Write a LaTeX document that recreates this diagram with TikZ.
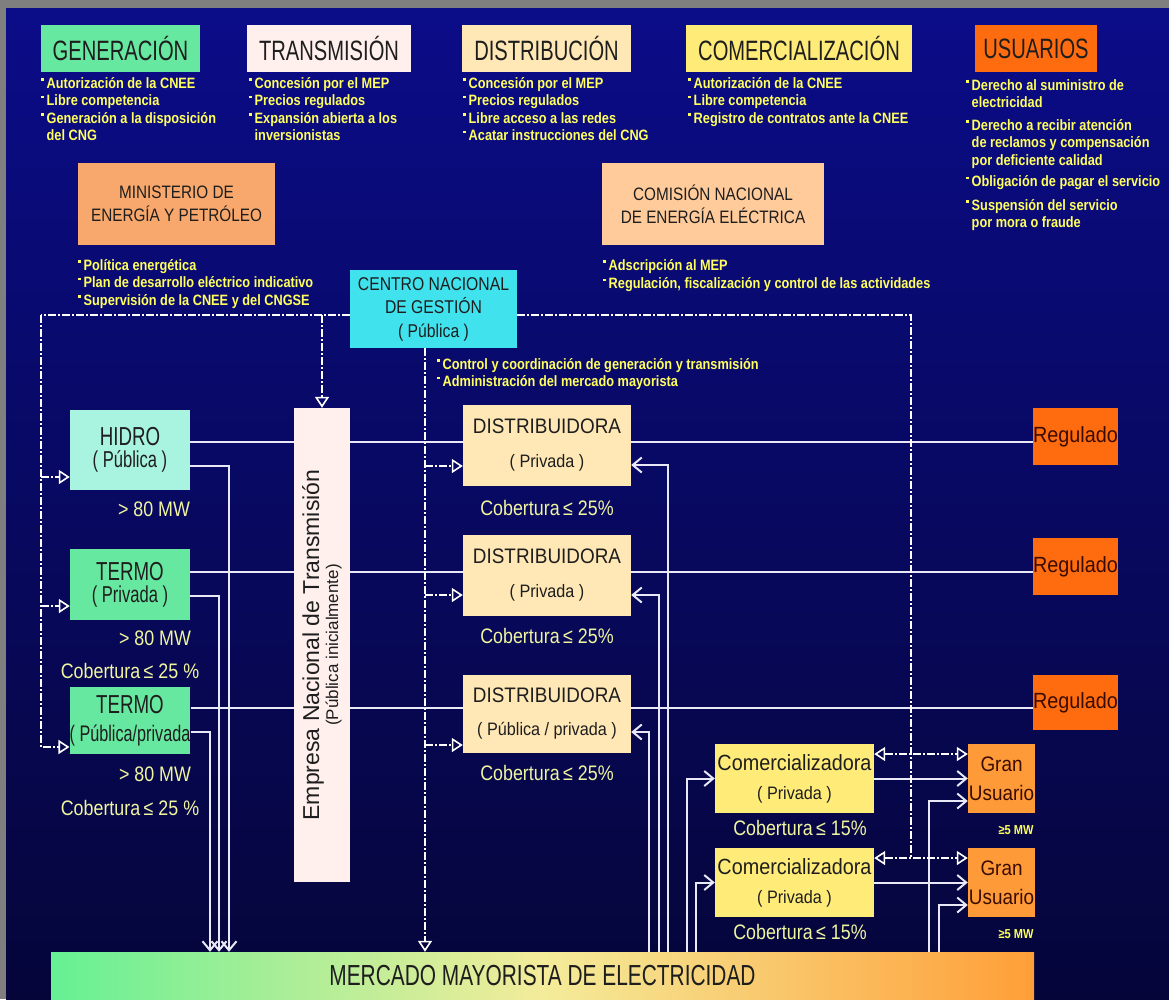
\documentclass[tikz,border=0pt]{standalone}
\usepackage{fontspec}
\setmainfont{Liberation Sans}
\newfontfamily\tallfont[FakeStretch=0.72]{Liberation Sans}
\newfontfamily\narrowfont[FakeStretch=0.85]{Liberation Sans}
\newfontfamily\boxfont[FakeStretch=0.9]{Liberation Sans}
\usetikzlibrary{arrows.meta}

\definecolor{frame}{HTML}{7F7F7F}
\definecolor{navytop}{HTML}{0B0C88}
\definecolor{navybot}{HTML}{05053A}
\definecolor{note}{HTML}{FFFF5E}
\definecolor{cover}{HTML}{F0F5A0}
\definecolor{ink}{HTML}{1E1E1E}
\definecolor{redink}{HTML}{3A0C00}
\definecolor{wirewhite}{HTML}{E8E8F6}
\definecolor{genfill}{HTML}{66E8A0}
\definecolor{hidrofill}{HTML}{A8F4E0}
\definecolor{transfill}{HTML}{FFF0EE}
\definecolor{distfill}{HTML}{FFE8B6}
\definecolor{comfill}{HTML}{FFEB78}
\definecolor{usufill}{HTML}{FF6C10}
\definecolor{gufill}{HTML}{FF9A38}
\definecolor{minfill}{HTML}{F8A86C}
\definecolor{cneefill}{HTML}{FFCB9B}
\definecolor{cngfill}{HTML}{40E2EE}
\definecolor{mercL}{HTML}{66F094}
\definecolor{mercM}{HTML}{F4EC9A}
\definecolor{mercR}{HTML}{FF9E38}

\newcommand{\blt}{\raisebox{0.5em}{\rule{2.5pt}{2.5pt}}\hspace{3pt}}
\newcommand{\ind}{\hspace*{5.5pt}}

\begin{document}
\begin{tikzpicture}[x=1pt, y=-1pt,
  unit/.style={fill=#1, text=ink, inner sep=0pt, align=center},
  head/.style={unit=#1, minimum height=47pt, font=\tallfont\fontsize{28}{30}\selectfont},
  info/.style={anchor=north west, inner sep=0pt, align=left, text=note,
    font=\narrowfont\bfseries\fontsize{15}{17.5}\selectfont},
  lbl/.style={inner sep=0pt, text=cover, font=\narrowfont\fontsize{21}{22}\selectfont},
  wire/.style={draw=wirewhite, line width=1.6pt},
  flow/.style={wire, line width=2pt, -{Straight Barb[length=9pt,width=15pt]}},
  ctrl/.style={draw=white, line width=2.2pt, dash pattern=on 8pt off 2pt on 2pt off 2pt},
  ctrlarr/.style={ctrl, -{Triangle[open,length=11pt,width=14pt,line width=1.6pt]}},
  ctrlboth/.style={ctrl, {Triangle[open,length=11pt,width=14pt,line width=1.6pt]}-{Triangle[open,length=11pt,width=14pt,line width=1.6pt]}}]
  \useasboundingbox (0,0) rectangle (1169,999);

  % frame and backdrop
  \fill[frame] (0,0) rectangle (1169,999);
  \shade[top color=navytop, bottom color=navybot] (6,8) rectangle (1169,999);

  % activity headers
  \node[head=genfill, minimum width=159pt] (gen) at (120.5,48.5) {GENERACIÓN};
  \node[head=transfill, minimum width=164pt] (trans) at (329,48.5) {TRANSMISIÓN};
  \node[head=distfill, minimum width=169pt] (dist) at (546.5,48.5) {DISTRIBUCIÓN};
  \node[head=comfill, minimum width=226pt] (com) at (799,48.5) {COMERCIALIZACIÓN};
  \node[head=usufill, minimum width=122pt] (usu) at (1036,48.5) {USUARIOS};

  % rules for each activity
  \node[info] (genInfo) at (41,77) {\blt Autorización de la CNEE\\\blt Libre competencia\\\blt Generación a la disposición\\\ind del CNG};
  \node[info] (transInfo) at (249,77) {\blt Concesión por el MEP\\\blt Precios regulados\\\blt Expansión abierta a los\\\ind inversionistas};
  \node[info] (distInfo) at (463,77) {\blt Concesión por el MEP\\\blt Precios regulados\\\blt Libre acceso a las redes\\\blt Acatar instrucciones del CNG};
  \node[info] (comInfo) at (688,77) {\blt Autorización de la CNEE\\\blt Libre competencia\\\blt Registro de contratos ante la CNEE};
  \node[info] (usuInfo) at (966,79) {\blt Derecho al suministro de\\\ind electricidad\\[5pt]\blt Derecho a recibir atención\\\ind de reclamos y compensación\\\ind por deficiente calidad\\[4pt]\blt Obligación de pagar el servicio\\[6pt]\blt Suspensión del servicio\\\ind por mora o fraude};

  % authorities
  \node[unit=minfill, minimum width=197pt, minimum height=82pt, font=\narrowfont\fontsize{18}{23}\selectfont] (mep) at (176.5,204) {MINISTERIO DE\\ENERGÍA Y PETRÓLEO};
  \node[unit=cneefill, minimum width=222pt, minimum height=82pt, font=\narrowfont\fontsize{18}{23}\selectfont] (cnee) at (713,204) {COMISIÓN NACIONAL\\DE ENERGÍA ELÉCTRICA};
  \node[info] (mepInfo) at (78,259) {\blt Política energética\\\blt Plan de desarrollo eléctrico indicativo\\\blt Supervisión de la CNEE y del CNGSE};
  \node[info] (cneeInfo) at (603,259) {\blt Adscripción al MEP\\[1pt]\blt Regulación, fiscalización y control de las actividades};
  \node[unit=cngfill, minimum width=167pt, minimum height=78pt, font=\narrowfont\fontsize{18.5}{23.5}\selectfont] (cng) at (433.5,309) {CENTRO NACIONAL\\DE GESTIÓN\\( Pública )};
  \node[info] (cngInfo) at (437,358) {\blt Control y coordinación de generación y transmisión\\\blt Administración del mercado mayorista};

  % generators
  \node[unit=hidrofill, minimum width=120pt, minimum height=80pt, font=\tallfont\fontsize{26}{22}\selectfont] (hidro) at (130,450) {HIDRO\\{\fontsize{23}{23}\selectfont( Pública )}};
  \node[unit=genfill, minimum width=120pt, minimum height=71pt, font=\tallfont\fontsize{26}{22}\selectfont] (termoB) at (130,584.5) {TERMO\\{\fontsize{23}{23}\selectfont( Privada )}};
  \node[unit=genfill, minimum width=120pt, minimum height=67pt, font=\tallfont\fontsize{26}{28}\selectfont] (termoC) at (130,720.5) {TERMO\\{\fontsize{22.5}{23}\selectfont( Pública/privada}};
  \node[lbl] (hidroMW) at (154,509) {> 80 MW};
  \node[lbl] (termoBMW) at (155,638) {> 80 MW};
  \node[lbl] (termoBCov) at (130,671) {Cobertura\,≤ 25 \%};
  \node[lbl] (termoCMW) at (155,774) {> 80 MW};
  \node[lbl] (termoCCov) at (130,808) {Cobertura\,≤ 25 \%};

  % transmission company
  \node[unit=transfill, minimum width=56pt, minimum height=474pt] (ent) at (322,645) {};
  \node[rotate=90, inner sep=0pt, align=center, text=ink, font=\fontsize{23}{19}\selectfont] (entName) at (ent.center) {Empresa Nacional de Transmisión\\{\fontsize{17}{17}\selectfont(Pública inicialmente)}};

  % distributors
  \node[unit=distfill, minimum width=168pt, minimum height=81pt, font=\boxfont\fontsize{21}{34}\selectfont] (distA) at (547,445.5) {DISTRIBUIDORA\\{\fontsize{18}{18}\selectfont( Privada )}};
  \node[unit=distfill, minimum width=168pt, minimum height=81pt, font=\boxfont\fontsize{21}{34}\selectfont] (distB) at (547,575.5) {DISTRIBUIDORA\\{\fontsize{18}{18}\selectfont( Privada )}};
  \node[unit=distfill, minimum width=168pt, minimum height=78pt, font=\boxfont\fontsize{21}{33}\selectfont] (distC) at (547,714) {DISTRIBUIDORA\\{\fontsize{18}{18}\selectfont( Pública / privada )}};
  \node[lbl] (distACov) at (547,508) {Cobertura\,≤ 25\%};
  \node[lbl] (distBCov) at (547,636) {Cobertura\,≤ 25\%};
  \node[lbl] (distCCov) at (547,773) {Cobertura\,≤ 25\%};

  % regulated users
  \node[unit=usufill, text=redink, minimum width=83pt, minimum height=57pt, font=\boxfont\fontsize{22}{24}\selectfont] (regA) at (1075.5,436.5) {Regulado};
  \node[unit=usufill, text=redink, minimum width=83pt, minimum height=57pt, font=\boxfont\fontsize{22}{24}\selectfont] (regB) at (1075.5,566.5) {Regulado};
  \node[unit=usufill, text=redink, minimum width=83pt, minimum height=55pt, font=\boxfont\fontsize{22}{24}\selectfont] (regC) at (1075.5,702.5) {Regulado};

  % retailers and large users
  \node[unit=comfill, minimum width=159pt, minimum height=69pt, font=\boxfont\fontsize{22}{29}\selectfont] (comA) at (794.5,778.5) {Comercializadora\\{\fontsize{18}{18}\selectfont( Privada )}};
  \node[unit=comfill, minimum width=159pt, minimum height=69pt, font=\boxfont\fontsize{22}{29}\selectfont] (comB) at (794.5,882.5) {Comercializadora\\{\fontsize{18}{18}\selectfont( Privada )}};
  \node[lbl] (comACov) at (800,828) {Cobertura\,≤ 15\%};
  \node[lbl] (comBCov) at (800,932) {Cobertura\,≤ 15\%};
  \node[unit=gufill, text=redink, minimum width=67pt, minimum height=69pt, font=\boxfont\fontsize{21}{29}\selectfont] (guA) at (1001.5,778.5) {Gran\\Usuario};
  \node[unit=gufill, text=redink, minimum width=67pt, minimum height=69pt, font=\boxfont\fontsize{21}{29}\selectfont] (guB) at (1001.5,882.5) {Gran\\Usuario};
  \node[lbl, text=note, font=\narrowfont\bfseries\fontsize{13}{14}\selectfont] (guAMW) at (1016,830) {≥5 MW};
  \node[lbl, text=note, font=\narrowfont\bfseries\fontsize{13}{14}\selectfont] (guBMW) at (1016,934) {≥5 MW};

  % wholesale market
  \node[inner sep=0pt, minimum width=983pt, minimum height=47pt, left color=mercL, right color=mercR, middle color=mercM, text=ink, font=\tallfont\fontsize{29}{30}\selectfont] (mercado) at (542.5,975.5) {MERCADO MAYORISTA DE ELECTRICIDAD};

  % energy rows
  \coordinate (row1) at (0,442);
  \coordinate (row2) at (0,572);
  \coordinate (row3) at (0,708);
  \draw[wire] (hidro.east |- row1) -- (ent.west |- row1);
  \draw[wire] (ent.east |- row1) -- (distA.west |- row1);
  \draw[wire] (distA.east |- row1) -- (regA.west |- row1);
  \draw[wire] (termoB.east |- row2) -- (ent.west |- row2);
  \draw[wire] (ent.east |- row2) -- (distB.west |- row2);
  \draw[wire] (distB.east |- row2) -- (regB.west |- row2);
  \draw[wire] (termoC.east |- row3) -- (ent.west |- row3);
  \draw[wire] (ent.east |- row3) -- (distC.west |- row3);
  \draw[wire] (distC.east |- row3) -- (regC.west |- row3);

  % sales into and out of the market
  \coordinate (hidroOut) at ([yshift=-16pt]hidro.east);
  \coordinate (termoBOut) at ([yshift=-11.5pt]termoB.east);
  \coordinate (termoCOut) at ([yshift=-11.5pt]termoC.east);
  \coordinate (hidroDrop) at (229,0);
  \coordinate (termoBDrop) at (219,0);
  \coordinate (termoCDrop) at (210,0);
  \draw[flow] (hidroOut) -| (hidroDrop |- mercado.north);
  \draw[flow] (termoBOut) -| (termoBDrop |- mercado.north);
  \draw[flow] (termoCOut) -| (termoCDrop |- mercado.north);

  \coordinate (distARet) at ([yshift=-19.5pt]distA.east);
  \coordinate (distBRet) at ([yshift=-19.5pt]distB.east);
  \coordinate (distCRet) at ([yshift=-18pt]distC.east);
  \coordinate (distARise) at (668,0);
  \coordinate (distBRise) at (659,0);
  \coordinate (distCRise) at (649,0);
  \coordinate (comARise) at (687,0);
  \coordinate (comBRise) at (696,0);
  \draw[flow] (distARise |- mercado.north) |- (distARet);
  \draw[flow] (distBRise |- mercado.north) |- (distBRet);
  \draw[flow] (distCRise |- mercado.north) |- (distCRet);
  \draw[flow] (comARise |- mercado.north) |- (comA.west);
  \draw[flow] (comBRise |- mercado.north) |- (comB.west);

  \coordinate (guAFeed) at ([yshift=-22.5pt]guA.west);
  \coordinate (guBFeed) at ([yshift=-22.5pt]guB.west);
  \coordinate (guARise) at (929,0);
  \coordinate (guBRise) at (939,0);
  \draw[flow] (comA.east) -- (guA.west);
  \draw[flow] (comB.east) -- (guB.west);
  \draw[flow] (guARise |- mercado.north) |- (guAFeed);
  \draw[flow] (guBRise |- mercado.north) |- (guBFeed);

  % control links from the CNG
  \coordinate (busL) at (41,315);
  \coordinate (busR) at (911,315);
  \coordinate (cngDrop) at ([xshift=-8.5pt]cng.south);
  \coordinate (hidroIn) at ([yshift=-27pt]hidro.west);
  \coordinate (termoBIn) at ([yshift=-21.5pt]termoB.west);
  \coordinate (termoCIn) at ([yshift=-26.5pt]termoC.west);
  \coordinate (distAIn) at ([yshift=-20.5pt]distA.west);
  \coordinate (distBIn) at ([yshift=-19.5pt]distB.west);
  \coordinate (distCIn) at ([yshift=-31pt]distC.west);
  \coordinate (comALink) at ([yshift=24.5pt]comA.east);
  \coordinate (comBLink) at ([yshift=24.5pt]comB.east);
  \draw[ctrl] (cng.west |- busL) -- (busL);
  \draw[ctrlarr] (busL) |- (termoCIn);
  \draw[ctrlarr] (busL |- hidroIn) -- (hidroIn);
  \draw[ctrlarr] (busL |- termoBIn) -- (termoBIn);
  \draw[ctrlarr] (ent.north |- busL) -- (ent.north);
  \draw[ctrlarr] (cngDrop) -- (cngDrop |- mercado.north);
  \draw[ctrlarr] (cngDrop |- distAIn) -- (distAIn);
  \draw[ctrlarr] (cngDrop |- distBIn) -- (distBIn);
  \draw[ctrlarr] (cngDrop |- distCIn) -- (distCIn);
  \draw[ctrl] (cng.east |- busR) -- (busR) -- (busR |- comBLink);
  \draw[ctrlboth] (comALink) -- (guA.west |- comALink);
  \draw[ctrlboth] (comBLink) -- (guB.west |- comBLink);
\end{tikzpicture}
\end{document}
